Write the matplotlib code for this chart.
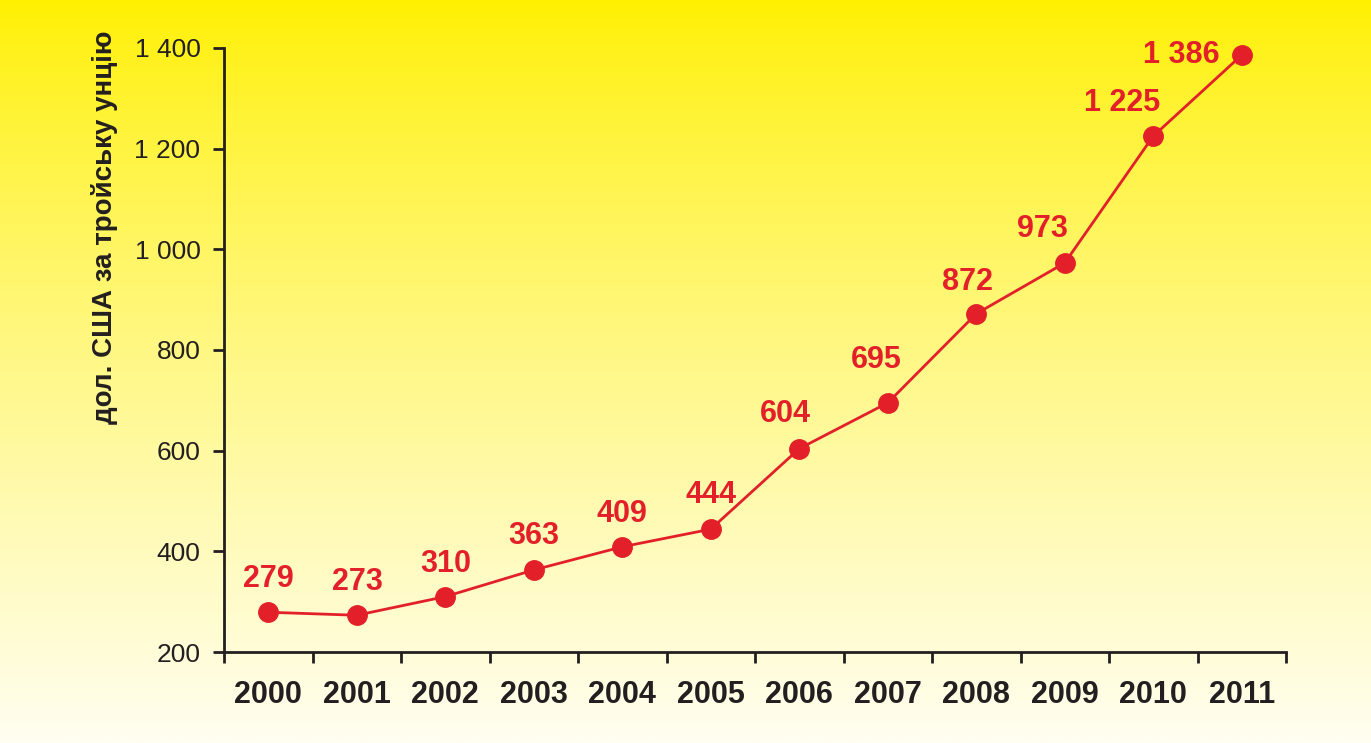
import numpy as np
import matplotlib.pyplot as plt
from matplotlib.ticker import FuncFormatter, FixedLocator
from matplotlib import font_manager

# Gold price, USD per troy ounce
years = ['2000', '2001', '2002', '2003', '2004', '2005',
         '2006', '2007', '2008', '2009', '2010', '2011']
prices = [279, 273, 310, 363, 409, 444, 604, 695, 872, 973, 1225, 1386]
price_labels = ['279', '273', '310', '363', '409', '444',
                '604', '695', '872', '973', '1 225', '1 386']

# label offsets in pixels (dx, dy)
label_offsets = [(0, 33), (1, 33), (1, 33), (0, 34), (0, 33), (0, 34),
                 (-14, 35), (-11, 43), (-9, 32), (-22, 34), (-31, 33), (-60, 0)]

names = {f.name for f in font_manager.fontManager.ttflist}
main_font = 'Liberation Sans' if 'Liberation Sans' in names else 'DejaVu Sans'
narrow_font = 'Liberation Sans Narrow' if 'Liberation Sans Narrow' in names else main_font
plt.rcParams['font.family'] = [main_font, 'DejaVu Sans']

red = '#e3202a'
dark = '#231f20'

fig = plt.figure(figsize=(13.71, 7.43), dpi=100)

# yellow gradient background
bg = fig.add_axes([0, 0, 1, 1], zorder=-10)
t = np.linspace(0, 1, 256)[:, None]
top = np.array([255, 240, 0]) / 255
bottom = np.array([255, 254, 240]) / 255
grad = top + (bottom - top) * t[..., None] ** 0.8
grad = np.repeat(grad, 2, axis=1)
bg.imshow(grad, aspect='auto', extent=[0, 1, 0, 1])
bg.axis('off')

ax = fig.add_axes([224 / 1371, 91 / 743, 1062 / 1371, 604 / 743])
ax.patch.set_alpha(0)

x = np.arange(len(years))
ax.plot(x, prices, color=red, lw=2, marker='o', markersize=14,
        markeredgecolor=red, clip_on=False, zorder=3)

for xi, yi, lab, (dx, dy) in zip(x, prices, price_labels, label_offsets):
    ax.annotate(lab, (xi, yi), xytext=(dx, dy), textcoords='offset pixels',
                ha='center', va='center', color=red, fontsize=22,
                fontweight='bold')

ax.set_xlim(-0.5, len(years) - 0.5)
ax.set_ylim(200, 1400)
ax.set_yticks(np.arange(200, 1401, 200))
ax.yaxis.set_major_formatter(FuncFormatter(lambda v, p: f'{int(v):,}'.replace(',', ' ')))

ax.xaxis.set_major_locator(FixedLocator(np.arange(-0.5, len(years), 1)))
ax.xaxis.set_minor_locator(FixedLocator(x))
ax.set_xticklabels([], minor=False)
ax.set_xticklabels(years, minor=True, fontsize=22, fontweight='bold', color=dark)
ax.tick_params(axis='x', which='major', length=8, width=2, direction='out', color=dark)
ax.tick_params(axis='x', which='minor', length=0, pad=20)
ax.tick_params(axis='y', length=8, width=2, pad=9, labelsize=19, labelcolor=dark,
               color=dark)

for s in ['top', 'right']:
    ax.spines[s].set_visible(False)
for s in ['left', 'bottom']:
    ax.spines[s].set_linewidth(2)
    ax.spines[s].set_color(dark)

fig.text(105 / 1371, 1 - 30 / 743, 'дол. США за тройську унцію', rotation=90,
         ha='center', va='top', fontsize=20, fontweight='bold',
         family=[narrow_font, 'DejaVu Sans'], color=dark)

fig.savefig('out.png', dpi=100)
